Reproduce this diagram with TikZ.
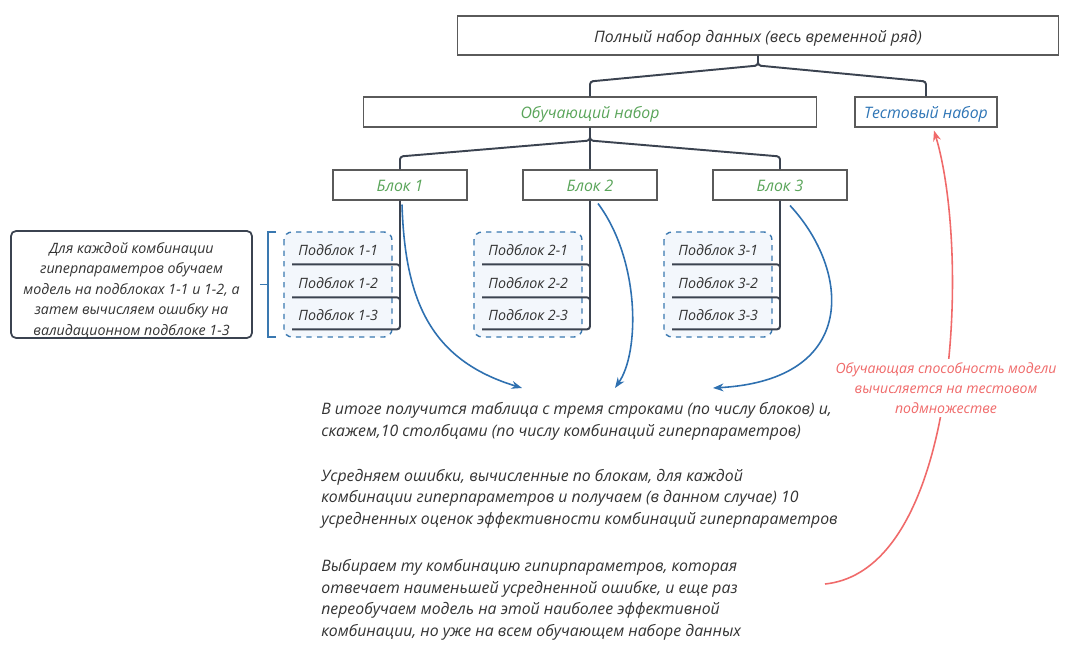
\documentclass[tikz,border=0pt]{standalone}
\usepackage{fontspec}
\setmainfont{Open Sans}
\usetikzlibrary{arrows.meta,calc,positioning}
\definecolor{txtgray}{HTML}{333333}
\definecolor{boxgray}{HTML}{5A5A5A}
\definecolor{treeline}{HTML}{3B4350}
\definecolor{trgreen}{HTML}{5AA55A}
\definecolor{tsblue}{HTML}{2E75B6}
\definecolor{arrblue}{HTML}{2E70B0}
\definecolor{grpblue}{HTML}{3A78B0}
\definecolor{subfill}{HTML}{F3F7FC}
\definecolor{notered}{HTML}{F06A6A}
\def\pu{0.02cm}

\tikzset{
  base/.style={font=\fontsize{9}{12.2}\selectfont\itshape, text=txtgray, inner sep=0pt},
  small/.style={font=\fontsize{8.1}{11.7}\selectfont\itshape},
  setbox/.style={base, draw=boxgray, line width=0.6pt, minimum height=30*\pu, text height=0.9em, text depth=0.12em},
  subbox/.style={base, small, anchor=west, inner xsep=6*\pu, minimum height=28*\pu},
  tree/.style={draw=treeline, line width=1.1pt, rounded corners=3*\pu},
  grpbox/.style={draw=grpblue, fill=subfill, line width=0.8pt, dashed, rounded corners=8*\pu},
  flow/.style={draw=arrblue, line width=0.9pt, -{Stealth[length=6pt,width=4.5pt]}},
  redflow/.style={draw=notered, line width=0.9pt, -{Stealth[length=6pt,width=4.5pt]}},
  para/.style={base, anchor=west, align=left},
}

\begin{document}
\begin{tikzpicture}[x=\pu, y=-\pu]
    \fill[white] (0,0) rectangle (1080,651);
    \useasboundingbox (0,0) rectangle (1080,651);

    % Levels of the tree
    \node[setbox, minimum width=601*\pu, minimum height=39*\pu] (full) at (758,35.5) {Полный набор данных (весь временной ряд)};
    \node[setbox, minimum width=453*\pu, text=trgreen] (train) at (590,112) {Обучающий набор};
    \node[setbox, minimum width=142*\pu, text=tsblue] (test) at (926,112) {Тестовый набор};
    \node[setbox, minimum width=134*\pu, text=trgreen] (b1) at (400,185) {Блок 1};
    \node[setbox, minimum width=134*\pu, text=trgreen] (b2) at (590,185) {Блок 2};
    \node[setbox, minimum width=134*\pu, text=trgreen] (b3) at (780,185) {Блок 3};

    \draw[tree] (full.south) -- ++(0,10) -- ($(train.north)+(0,-15)$) -- (train.north);
    \draw[tree] (full.south) -- ++(0,10) -- ($(test.north)+(0,-15)$) -- (test.north);
    \draw[tree] (train.south) -- ++(0,13) -- ($(b1.north)+(0,-13)$) -- (b1.north);
    \draw[tree] (train.south) -- (b2.north);
    \draw[tree] (train.south) -- ++(0,13) -- ($(b3.north)+(0,-13)$) -- (b3.north);

    % Sub-blocks
    \foreach \k/\u in {1/292,2/482,3/672}{
      \draw[grpbox] (\u-8,232) rectangle (\u+100,337);
      \foreach \r/\y in {1/250,2/283,3/315}
        \node[subbox] (s\k\r) at (\u,\y) {Подблок \k-\r};
      \draw[tree] (b\k.south) -- (b\k.south |- s\k3.south west) -- (s\k3.south west);
      \foreach \r in {1,2}
        \draw[tree] (s\k\r.south west) -- (s\k\r.south west -| b\k.south) -- ++(0,8);
    }

    % Note on the left
    \node[draw=treeline, line width=1pt, rounded corners=5*\pu,
          minimum width=241*\pu, minimum height=107*\pu] (note) at (131.5,284.5) {};
    \node[base, small, align=center] (notetext) at (131.5,290) {Для каждой комбинации\\гиперпараметров обучаем\\модель на подблоках 1-1 и 1-2, а\\затем вычисляем ошибку на\\валидационном подблоке 1-3};
    \draw[draw=grpblue, line width=1pt] (276,232) -- (268,232) -- (268,337) -- (276,337);
    \draw[draw=grpblue, line width=1pt] ($(note.east)+(7,0)$) -- ++(9,0);

    % Result texts
    \node[para] (res1) at (321,421.5) {В итоге получится таблица с тремя строками (по числу блоков) и,\\скажем,10 столбцами (по числу комбинаций гиперпараметров)};
    \node[para] (res2) at (321,498.5) {Усредняем ошибки, вычисленные по блокам, для каждой\\комбинации гиперпараметров и получаем (в данном случае) 10\\усредненных оценок эффективности комбинаций гиперпараметров};
    \node[para] (res3) at (321,600) {Выбираем ту комбинацию гипирпараметров, которая\\отвечает наименьшей усредненной ошибке, и еще раз\\переобучаем модель на этой наиболее эффективной\\комбинации, но уже на всем обучающем наборе данных};

    % Arrows to the table
    \coordinate (tip1) at (522,388);
    \coordinate (tip2) at (615,388);
    \coordinate (tip3) at (713,388);
    \draw[flow] ($(b1.south)+(2,4)$) .. controls (405,300) and (430,360) .. (tip1);
    \draw[flow] ($(b2.south)+(8,3)$) .. controls (640,260) and (640,352) .. (tip2);
    \draw[flow] ($(b3.south)+(10,5)$) .. controls (850,270) and (860,380) .. (tip3);

    % Test arrow
    \coordinate (rstart) at (825,584);
    \draw[redflow] (rstart) .. controls (960,570) and (970,250) .. ($(test.south)+(8,3)$);
    \node[base, text=notered, fill=white, align=center, inner sep=2pt,
          font=\fontsize{8}{11.2}\selectfont\itshape] (testnote) at (946,388)
      {Обучающая способность модели\\вычисляется на тестовом\\подмножестве};
\end{tikzpicture}
\end{document}
